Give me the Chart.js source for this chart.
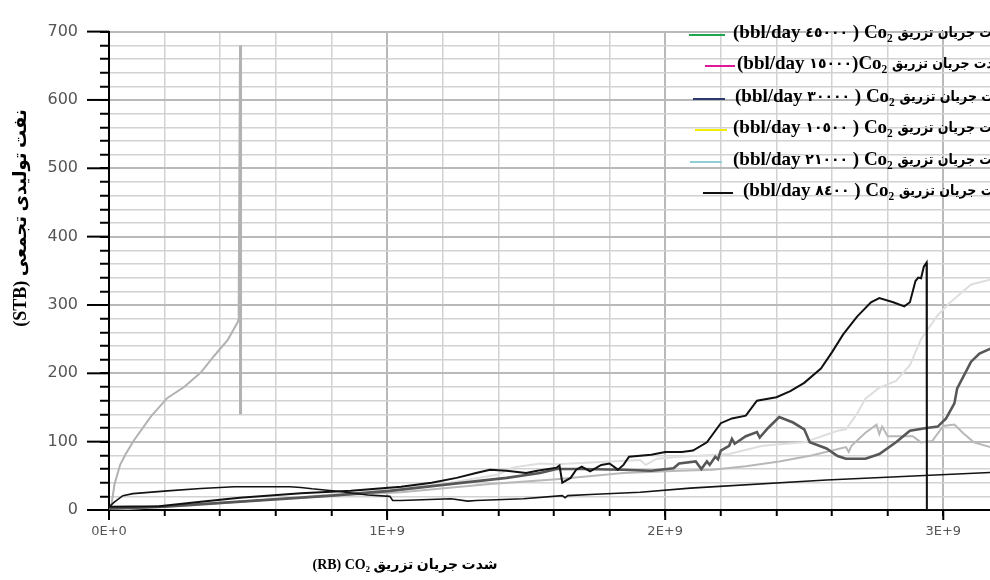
<!DOCTYPE html>
<html>
<head>
<meta charset="utf-8">
<script src="https://cdn.jsdelivr.net/npm/chart.js@4/dist/chart.umd.min.js"></script>
<style>
  html, body { margin: 0; padding: 0; background: #fff; overflow: hidden; }
  #wrap { width: 990px; height: 580px; }
</style>
</head>
<body>
<div id="wrap"><canvas id="c" width="990" height="580"></canvas></div>
<script>
// ---- data (x in units of 1E+9 RB, y in STB) ----
const rate45000 = [[0,0],[0.007,3],[0.02,38],[0.04,66],[0.06,82],[0.09,102],[0.151,137],[0.21,164],[0.27,180],[0.33,201],[0.377,225],[0.427,249],[0.463,275],[0.468,283],[0.473,680],[0.473,140]];
const rate15000 = [[0,2],[0.2,5],[0.5,13],[0.8,21],[1.01,28],[1.25,39],[1.43,47],[1.55,54],[1.61,60],[1.7,60],[1.85,59],[1.95,57.5],[2.03,61],[2.05,68],[2.11,71],[2.13,60],[2.15,71],[2.16,66],[2.18,78],[2.19,74],[2.2,87],[2.23,94],[2.24,104],[2.25,97],[2.29,108],[2.33,114],[2.34,106],[2.37,120],[2.41,136],[2.46,128],[2.5,118],[2.52,99],[2.58,90],[2.62,79],[2.65,75],[2.72,75],[2.77,82],[2.83,99],[2.88,116],[2.94,120],[2.98,122],[3.01,134],[3.04,156],[3.05,178],[3.1,217],[3.13,229],[3.17,236]];
const rate30000 = [[0,4.7],[0.18,5.6],[0.33,12],[0.47,18],[0.69,24.5],[0.87,28],[1.05,34],[1.16,40],[1.25,47],[1.32,54],[1.37,59],[1.43,57.5],[1.5,54],[1.54,57.5],[1.61,62],[1.62,65],[1.63,40],[1.66,47],[1.68,59],[1.7,63.6],[1.73,56.6],[1.77,66],[1.8,68],[1.83,59],[1.85,66],[1.87,78],[1.95,81],[2.0,85],[2.06,85],[2.1,87],[2.15,99],[2.2,127],[2.24,134],[2.29,138],[2.33,160],[2.4,165],[2.45,174],[2.5,186],[2.56,207],[2.6,231],[2.64,257],[2.69,283],[2.74,304],[2.77,310],[2.82,304],[2.86,298],[2.88,304],[2.9,335],[2.91,340],[2.92,339],[2.93,356],[2.94,362],[2.941,0],[3.06,0]];
const rate10500 = [[0,0],[0.3,7],[0.6,16],[0.9,26],[1.2,38],[1.4,52],[1.45,62],[1.55,68],[1.61,67],[1.75,70],[1.91,73],[1.93,66],[1.97,75],[2.05,78],[2.23,82],[2.35,94],[2.5,99],[2.62,116],[2.65,118],[2.69,141],[2.72,163],[2.77,179],[2.83,189],[2.88,212],[2.92,250],[2.98,285],[3.02,302],[3.1,330],[3.17,337]];
const rate21000 = [[0,2],[0.18,4.7],[0.57,15],[0.8,21],[1.05,26],[1.37,38],[1.61,45],[1.85,54],[2.05,57.5],[2.17,59],[2.29,64],[2.41,71],[2.53,80],[2.65,92],[2.66,85],[2.67,94],[2.72,113],[2.76,125],[2.77,111],[2.78,122],[2.8,108],[2.89,108],[2.92,99],[2.96,101],[3.0,123],[3.04,125],[3.07,113],[3.11,99],[3.17,92]];
const rate8400 = [[0,4.7],[0.02,12],[0.05,21],[0.086,24],[0.21,28],[0.33,31.5],[0.45,34],[0.65,34],[0.69,33],[0.73,31],[0.83,27],[0.93,22],[1.01,20],[1.02,14],[1.05,14],[1.23,16.5],[1.29,13],[1.32,14],[1.49,16.5],[1.63,21],[1.64,18],[1.65,21],[1.73,22.6],[1.91,26],[2.09,32],[2.58,44],[3.17,55]];

const legendRates = ['٤٥٠٠٠', '١٥٠٠٠', '٣٠٠٠٠', '١٠٥٠٠', '٢١٠٠٠', '٨٤٠٠'];
const legendLatinA = '(bbl/day ';
const legendLatinB = [' ) Co₂ ', ')Co₂ ', ' ) Co₂ ', ' ) Co₂ ', ' ) Co₂ ', ' ) Co₂ '];
const legendArabic = 'شدت جریان تزریق';
const seriesList = [rate45000, rate15000, rate30000, rate10500, rate21000, rate8400];
const xTickLabels = ['0E+0', '1E+9', '2E+9', '3E+9'];
const yTickLabels = ['0', '100', '200', '300', '400', '500', '600', '700'];
const xAxisTitle = '(RB) CO₂ شدت جریان تزریق';
const yAxisTitle = '(STB) نفت تولیدی تجمعی';

// ---- styles ----
const X_UNIT = 1e9;
const X_STEP = 2e8;
const X_MAX = 3.168;
const legendColors = ['#1fa64e', '#e0189a', '#2b3a6b', '#f2ee00', '#8ecfd6', '#111111'];
const plotColors = ['#b2b2b2', '#575757', '#111111', '#dedede', '#b8b8b8', '#141414'];
const plotWidths = [2, 2.6, 2, 2, 2, 1.6];
const plotOrder = [4, 2, 0, 5, 3, 1];

const datasets = seriesList.map((s, i) => ({
  label: legendLatinA + legendRates[i] + legendLatinB[i] + legendArabic,
  data: s.map(p => ({ x: p[0] * X_UNIT, y: p[1] })),
  borderColor: plotColors[i],
  borderWidth: plotWidths[i],
  pointRadius: 0,
  tension: 0,
  fill: false,
  order: plotOrder[i],
  segment: i === 0 ? { borderWidth: c => (c.p1.parsed.y > 300 || c.p0.parsed.y > 300) ? 3 : 2 } : undefined
}));

const isMajorX = v => {
  const k = Math.round(v / X_STEP);
  return Math.abs(v / X_STEP - k) < 0.01 && k % 5 === 0;
};

const LATIN = 'bold 19px "Liberation Serif", "DejaVu Serif", serif';
const DIGITS = 'bold 14px "DejaVu Sans", sans-serif';
const ARAB = 'bold 14px "DejaVu Sans Condensed", "DejaVu Sans", sans-serif';

const decor = {
  id: 'decor',
  afterDraw(chart) {
    const ctx = chart.ctx;
    const xs = chart.scales.x, ys = chart.scales.y;
    const ca = chart.chartArea;
    ctx.save();
    ctx.strokeStyle = '#000';
    ctx.lineWidth = 2;
    yTickLabels.forEach(l => {
      const y = ys.getPixelForValue(Number(l));
      ctx.beginPath(); ctx.moveTo(ca.left - 22, y); ctx.lineTo(ca.left, y); ctx.stroke();
    });
    xTickLabels.forEach((l, i) => {
      const x = xs.getPixelForValue(i * X_UNIT);
      ctx.beginPath(); ctx.moveTo(x, ca.bottom); ctx.lineTo(x, ca.bottom + 10); ctx.stroke();
    });
    ctx.fillStyle = '#000';
    ctx.direction = 'ltr';
    ctx.textAlign = 'center';
    ctx.textBaseline = 'middle';
    ctx.font = 'bold 14px "Liberation Serif", "DejaVu Sans", serif';
    ctx.fillText(xAxisTitle, 405, 565);
    ctx.save();
    ctx.translate(21, 218);
    ctx.rotate(-Math.PI / 2);
    ctx.font = 'bold 18px "Liberation Serif", "DejaVu Sans", serif';
    ctx.fillText(yAxisTitle, 0, 0);
    ctx.restore();
    const rowsY = [33, 64, 97, 128, 160, 191];
    const lineX = [[689, 725], [705, 735], [693, 725], [695, 727], [690, 722], [703, 733]];
    const textX = [733, 737, 735, 733, 733, 743];
    ctx.textAlign = 'left';
    legendRates.forEach((r, i) => {
      ctx.strokeStyle = legendColors[i];
      ctx.lineWidth = 2;
      ctx.beginPath(); ctx.moveTo(lineX[i][0], rowsY[i] + 2); ctx.lineTo(lineX[i][1], rowsY[i] + 2); ctx.stroke();
      ctx.fillStyle = '#000';
      const runs = [[legendLatinA, LATIN], [r, DIGITS], [legendLatinB[i], LATIN], [legendArabic, ARAB]];
      let x = textX[i];
      runs.forEach(([t, f]) => {
        ctx.font = f;
        ctx.fillText(t, x, rowsY[i]);
        x += ctx.measureText(t).width;
      });
    });
    ctx.restore();
  }
};

new Chart(document.getElementById('c'), {
  type: 'line',
  data: { datasets },
  options: {
    responsive: false,
    animation: false,
    events: [],
    layout: { padding: { top: 15, right: 0, left: 0, bottom: 0 } },
    plugins: { legend: { display: false }, tooltip: { enabled: false } },
    scales: {
      x: {
        type: 'linear',
        min: 0,
        max: X_MAX * X_UNIT,
        afterBuildTicks: s => {
          const t = [];
          for (let k = 0; k * X_STEP <= X_MAX * X_UNIT; k++) t.push({ value: k * X_STEP });
          s.ticks = t;
        },
        afterFit: s => { s.height = 70; },
        ticks: {
          autoSkip: false,
          maxRotation: 0,
          padding: 8,
          color: '#555',
          font: { family: '"DejaVu Sans", sans-serif', size: 13 },
          callback: v => isMajorX(v) ? (xTickLabels[Math.round(v / X_UNIT)] || '') : ''
        },
        grid: {
          color: c => (c.tick && isMajorX(c.tick.value)) ? '#b9b9b9' : '#d2d2d2',
          lineWidth: c => (c.tick && isMajorX(c.tick.value)) ? 2 : 1.5,
          tickLength: 6,
          tickColor: '#000',
          tickWidth: 2
        },
        border: { color: '#000', width: 2 }
      },
      y: {
        min: 0,
        max: 700,
        afterFit: s => { s.width = 109; },
        ticks: {
          stepSize: 20,
          autoSkip: false,
          padding: 22,
          color: '#555',
          font: { family: '"DejaVu Sans", sans-serif', size: 16 },
          callback: v => (v % 100 === 0 ? yTickLabels[v / 100] : '')
        },
        grid: {
          color: c => (c.tick && c.tick.value % 100 === 0) ? '#b9b9b9' : '#d2d2d2',
          lineWidth: c => (c.tick && c.tick.value % 100 === 0) ? 2 : 1.5,
          tickLength: 9,
          tickColor: '#000',
          tickWidth: 2
        },
        border: { color: '#000', width: 2 }
      }
    }
  },
  plugins: [decor]
});
</script>
</body>
</html>
